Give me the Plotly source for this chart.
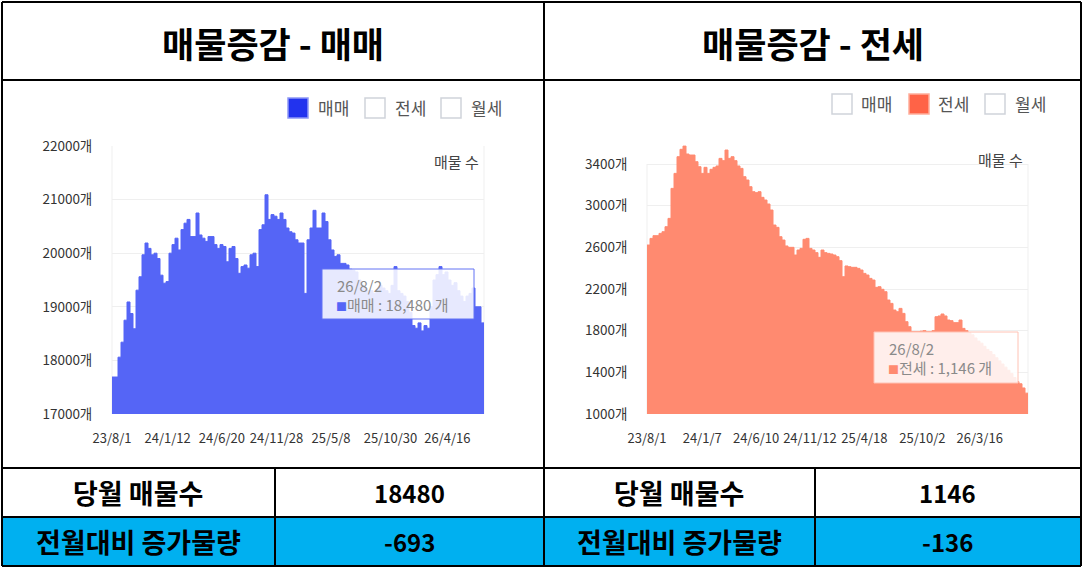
import pandas as pd
import plotly.graph_objects as go

W, H = 1083, 568
FONT = "Noto Sans CJK KR"

sale_counts = [
    17690, 17690, 18060, 18340, 18750, 19090, 18875, 18590, 19310, 19560,
    19970, 20190, 20090, 19970, 20000, 19900, 19590, 19440, 19470, 20000,
    20160, 20280, 20060, 20440, 20560, 20630, 20310, 20310, 20750, 20340,
    20280, 20220, 20310, 20310, 20160, 20090, 20160, 20125, 19840, 20090,
    20125, 19900, 19625, 19750, 19780, 19720, 19970, 20000, 19750, 20440,
    20530, 21090, 20630, 20720, 20690, 20630, 20750, 20630, 20470, 20400,
    20375, 20250, 20190, 20190, 19250, 20250, 20470, 20800, 20470, 20470,
    20750, 20590, 20250, 20060, 19940, 19970, 19810, 19810, 19780, 19700,
    19680, 19650, 19500, 19400, 19350, 19300, 19300, 19250, 19300, 19400,
    19350, 19300, 19250, 19400, 19750, 19300, 19250, 19200, 19100, 18900,
    18650, 18600, 18700, 18550, 18650, 18600, 19000, 19500, 19600, 19750,
    19600, 19650, 19500, 19400, 19450, 19300, 19200, 19100, 19200, 19250,
    19350, 19000, 19000, 18700, 18480,
]

# 전세 listing counts
jeonse_counts = [
    2622, 2686, 2712, 2712, 2734, 2750, 2798, 2878, 3166, 3310,
    3470, 3541, 3573, 3496, 3486, 3486, 3422, 3374, 3310, 3368,
    3310, 3349, 3368, 3381, 3454, 3432, 3534, 3454, 3470, 3432,
    3381, 3358, 3278, 3246, 3182, 3134, 3125, 3134, 3080, 3054,
    3016, 2958, 2814, 2792, 2702, 2670, 2613, 2600, 2600, 2526,
    2574, 2590, 2677, 2686, 2590, 2574, 2549, 2504, 2574, 2549,
    2542, 2536, 2526, 2510, 2472, 2318, 2421, 2414, 2408, 2408,
    2398, 2382, 2350, 2334, 2302, 2286, 2216, 2222, 2197, 2174,
    2094, 2062, 1998, 1982, 2014, 1966, 1886, 1838, 1790, 1790,
    1790, 1795, 1800, 1790, 1790, 1800, 1934, 1941, 1960, 1941,
    1902, 1896, 1877, 1877, 1902, 1822, 1800, 1780, 1760, 1730,
    1700, 1680, 1650, 1620, 1600, 1570, 1540, 1510, 1480, 1450,
    1420, 1390, 1350, 1310, 1290, 1250, 1200, 1146,
]

start_date = "2023-08-01"
end_date = "2026-08-02"

sale_tick_dates = ["2023-08-01", "2024-01-12", "2024-06-20", "2024-11-28",
                   "2025-05-08", "2025-10-30", "2026-04-16"]
sale_tick_labels = ["23/8/1", "24/1/12", "24/6/20", "24/11/28",
                    "25/5/8", "25/10/30", "26/4/16"]
jeonse_tick_dates = ["2023-08-01", "2024-01-07", "2024-06-10", "2024-11-12",
                     "2025-04-18", "2025-10-02", "2026-03-16"]
jeonse_tick_labels = ["23/8/1", "24/1/7", "24/6/10", "24/11/12",
                      "25/4/18", "25/10/2", "26/3/16"]
sale_y_ticks = [17000, 18000, 19000, 20000, 21000, 22000]
jeonse_y_ticks = [1000, 1400, 1800, 2200, 2600, 3000, 3400]

legend_names = ["매매", "전세", "월세"]
panel_titles = ["매물증감 - 매매", "매물증감 - 전세"]
row_labels = ["당월 매물수", "전월대비 증가물량"]
sale_summary = [18480, -693]
jeonse_summary = [1146, -136]
tooltip_date = "26/8/2"

SALE_COLOR = "#5565f6"
SALE_LEGEND = "#2233ee"
JEONSE_COLOR = "#ff8a70"
JEONSE_LEGEND = "#ff6347"
TABLE_BLUE = "#00b0f0"


def px(x):
    return x / W


def py(y):
    return 1 - y / H


sale_dates = pd.date_range(start_date, end_date, periods=len(sale_counts))
jeonse_dates = pd.date_range(start_date, end_date, periods=len(jeonse_counts))

fig = go.Figure()
fig.add_trace(go.Scatter(
    x=sale_dates, y=sale_counts, mode="lines",
    line=dict(shape="hv", color=SALE_COLOR, width=1),
    fill="tozeroy", fillcolor=SALE_COLOR,
    xaxis="x", yaxis="y", hoverinfo="skip", showlegend=False,
))
fig.add_trace(go.Scatter(
    x=jeonse_dates, y=jeonse_counts, mode="lines",
    line=dict(shape="hv", color=JEONSE_COLOR, width=1),
    fill="tozeroy", fillcolor=JEONSE_COLOR,
    xaxis="x2", yaxis="y2", hoverinfo="skip", showlegend=False,
))

tick_font = dict(family=FONT, size=13, color="#333333")
x_common = dict(type="date", range=[start_date, end_date], showgrid=False,
                zeroline=False, showline=False, ticks="outside", ticklen=12,
                tickcolor="rgba(0,0,0,0)", tickfont=tick_font, automargin=False)
y_common = dict(gridcolor="#efefef", gridwidth=1, zeroline=False,
                showline=False, ticks="outside", ticklen=16,
                tickcolor="rgba(0,0,0,0)", automargin=False,
                tickfont=dict(family=FONT, size=13.5, color="#333333"))

fig.update_layout(
    width=W, height=H, autosize=False,
    margin=dict(l=0, r=0, t=0, b=0, pad=0, autoexpand=False),
    paper_bgcolor="white", plot_bgcolor="white", showlegend=False,
    xaxis=dict(domain=[px(112), px(484)], anchor="y",
               tickvals=sale_tick_dates, ticktext=sale_tick_labels, **x_common),
    yaxis=dict(domain=[py(414), py(146)], anchor="x", range=[17000, 22000],
               tickvals=sale_y_ticks, ticktext=[f"{v}개" for v in sale_y_ticks],
               **y_common),
    xaxis2=dict(domain=[px(647), px(1028)], anchor="y2",
                tickvals=jeonse_tick_dates, ticktext=jeonse_tick_labels, **x_common),
    yaxis2=dict(domain=[py(414), py(145.25)], anchor="x2", range=[1000, 3580],
                tickvals=jeonse_y_ticks, ticktext=[f"{v}개" for v in jeonse_y_ticks],
                **y_common),
)

shapes = []
annotations = []

# table background for the second summary row
shapes.append(dict(type="rect", xref="paper", yref="paper", layer="below",
                   x0=px(2), x1=px(1081), y0=py(565), y1=py(517),
                   fillcolor=TABLE_BLUE, line=dict(width=0)))

# faint left/right frame of each grid
for xr, yr, lo, hi in [("x domain", "y", 17000, 22000), ("x2 domain", "y2", 1000, 3400)]:
    for xv in (0, 1):
        shapes.append(dict(type="line", xref=xr, yref=yr, x0=xv, x1=xv,
                           y0=lo, y1=hi, line=dict(color="#efefef", width=1),
                           layer="below"))

# legends (manual boxes, one active per panel)
legend_items = [
    ([(288, 316), (365, 393), (441, 469)], 108, 0, SALE_LEGEND, "#8e98f6"),
    ([(832, 859), (909, 936), (985, 1013)], 104, 1, JEONSE_LEGEND, "#ffae9c"),
]
for positions, cy, active, fill, edge in legend_items:
    for i, (bx, tx) in enumerate(positions):
        on = i == active
        shapes.append(dict(type="rect", xref="paper", yref="paper",
                           x0=px(bx), x1=px(bx + 20), y0=py(cy + 10), y1=py(cy - 10),
                           fillcolor=fill if on else "white",
                           line=dict(color=edge if on else "#d0d3da", width=1.5)))
        annotations.append(dict(xref="paper", yref="paper", x=px(tx), y=py(cy),
                                xanchor="left", yanchor="middle", showarrow=False,
                                text=legend_names[i],
                                font=dict(family=FONT, size=17, color="#555555")))

# "매물 수" label in the top right of each grid
for rx, ry in [(481, 162), (1025, 159)]:
    annotations.append(dict(xref="paper", yref="paper", x=px(rx), y=py(ry),
                            xanchor="right", yanchor="middle", showarrow=False,
                            text="매물 수",
                            font=dict(family=FONT, size=15, color="#444444")))

# tooltips
tooltips = [
    ((322, 474, 269, 319), "#6272f4", SALE_COLOR, legend_names[0], sale_summary[0]),
    ((874, 1018, 332, 383), "#ffc2b4", JEONSE_COLOR, legend_names[1], jeonse_summary[0]),
]
for (x0, x1, y0, y1), border, mark, name, val in tooltips:
    shapes.append(dict(type="rect", xref="paper", yref="paper",
                       x0=px(x0), x1=px(x1), y0=py(y1), y1=py(y0),
                       fillcolor="rgba(255,255,255,0.86)",
                       line=dict(color=border, width=1)))
    annotations.append(dict(xref="paper", yref="paper", x=px(x0 + 13), y=py(y0 + 16),
                            xanchor="left", yanchor="middle", showarrow=False,
                            text=tooltip_date,
                            font=dict(family=FONT, size=15, color="#8a8a8a")))
    annotations.append(dict(xref="paper", yref="paper", x=px(x0 + 12), y=py(y0 + 35),
                            xanchor="left", yanchor="middle", showarrow=False,
                            text=f"<span style='color:{mark};font-size:11px'>■</span>"
                                 f"{name} : {val:,} 개",
                            font=dict(family=FONT, size=15, color="#8a8a8a")))

# panel titles
for cx, title in zip([273, 813], panel_titles):
    annotations.append(dict(xref="paper", yref="paper", x=px(cx), y=py(42),
                            xanchor="center", yanchor="middle", showarrow=False,
                            text=f"<b>{title}</b>",
                            font=dict(family=FONT, size=35, color="black")))

# summary table cells
for (lc, vc), summary in [((138, 409), sale_summary), ((679, 947), jeonse_summary)]:
    for label, val, cy in zip(row_labels, summary, [492, 541]):
        annotations.append(dict(xref="paper", yref="paper", x=px(lc), y=py(cy),
                                xanchor="center", yanchor="middle", showarrow=False,
                                text=f"<b>{label}</b>",
                                font=dict(family=FONT, size=27, color="black")))
        annotations.append(dict(xref="paper", yref="paper", x=px(vc), y=py(cy),
                                xanchor="center", yanchor="middle", showarrow=False,
                                text=f"<b>{val}</b>",
                                font=dict(family=FONT, size=24, color="black")))

# table grid lines
border = dict(color="black", width=2)
lines = [
    (2, 2, 1081, 2), (2, 566, 1081, 566), (2, 2, 2, 566), (1081, 2, 1081, 566),
    (544, 2, 544, 566),
    (2, 80, 1081, 80), (2, 468, 1081, 468), (2, 517, 1081, 517),
    (275, 468, 275, 566), (815, 468, 815, 566),
]
for x0, y0, x1, y1 in lines:
    shapes.append(dict(type="line", xref="paper", yref="paper",
                       x0=px(x0), y0=py(y0), x1=px(x1), y1=py(y1),
                       line=border, layer="above"))

fig.update_layout(shapes=shapes, annotations=annotations)

# drop the default page margin so the figure sits at the window origin
fig.write_html("out.html", config={"displayModeBar": False},
               post_script="document.body.style.margin='0';")
